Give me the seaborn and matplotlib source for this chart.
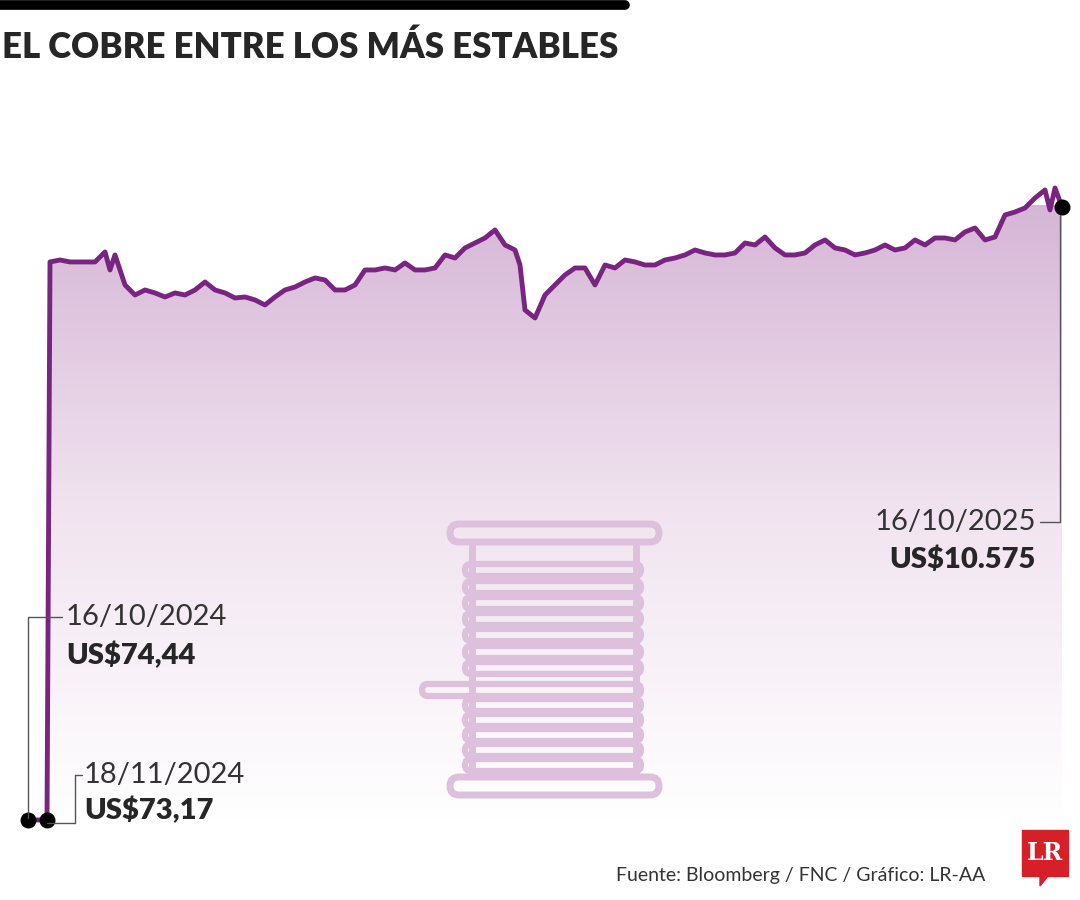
import numpy as np
import matplotlib
matplotlib.use("Agg")
import matplotlib.pyplot as plt
import seaborn as sns
from matplotlib.patches import FancyBboxPatch, Polygon

sns.set_theme(style="white")
plt.rcParams['font.family'] = ['Lato', 'DejaVu Sans']

# time position (days-like index) and copper price values
t = [0, 19, 22, 32, 42, 52, 67, 77, 82, 87, 97, 107, 117, 127, 137, 147, 157, 167, 177, 187,
     197, 207, 217, 227, 237, 247, 257, 267, 277, 287, 297, 307, 317, 327, 337, 347, 357, 367,
     377, 387, 397, 407, 417, 427, 437, 447, 457, 467, 477, 487, 492, 497, 507, 517, 527, 537,
     547, 557, 567, 577, 587, 597, 607, 617, 627, 637, 647, 657, 667, 677, 687, 697, 707, 717,
     727, 737, 747, 757, 767, 777, 787, 797, 807, 817, 827, 837, 847, 857, 867, 877, 887, 897,
     907, 917, 927, 937, 947, 957, 967, 977, 987, 997, 1007, 1017, 1022, 1027, 1034]
price = [74.44, 73.17, 9633, 9667, 9633, 9633, 9633, 9804, 9496, 9753, 9239, 9067, 9153, 9102,
         9033, 9102, 9067, 9153, 9290, 9153, 9102, 9016, 9033, 8982, 8896, 9033, 9153, 9204,
         9290, 9359, 9324, 9153, 9153, 9239, 9496, 9496, 9530, 9496, 9616, 9496, 9496, 9530,
         9753, 9701, 9873, 9958, 10044, 10181, 9924, 9838, 9581, 8810, 8673, 9067, 9239, 9410,
         9530, 9530, 9239, 9581, 9530, 9667, 9633, 9581, 9581, 9667, 9701, 9753, 9838, 9787,
         9753, 9753, 9787, 9958, 9924, 10061, 9873, 9753, 9753, 9787, 9924, 10010, 9873, 9838,
         9753, 9787, 9838, 9924, 9838, 9873, 10010, 9924, 10044, 10044, 10010, 10147, 10215,
         10010, 10061, 10438, 10489, 10558, 10729, 10866, 10524, 10900, 10575]

line_c = "#7a2482"
fig = plt.figure(figsize=(10.8, 9), dpi=100)
ax = fig.add_axes([0, 80/900, 1, 640/900])
ax.set_xlim(-28, 1052)
ax.set_ylim(73, 11037)
ax.axis("off")

# gradient fill under curve
grad = np.linspace(0, 1, 256).reshape(-1, 1)
cmap = matplotlib.colors.LinearSegmentedColormap.from_list("g", ["#ffffff", "#f1e4f0", "#d6b6d6"])
im = ax.imshow(grad, extent=[-28, 1052, 73, 10600], origin="lower", aspect="auto", cmap=cmap, zorder=1)
poly = Polygon(list(zip(t, price)) + [(t[-1], 73), (t[0], 73)], closed=True, transform=ax.transData,
               facecolor="none", edgecolor="none")
ax.add_patch(poly)
im.set_clip_path(poly)
sns.lineplot(x=t, y=price, ax=ax, color=line_c, lw=3.5, zorder=3)
for l in ax.lines:
    l.set_clip_on(False)
ax.scatter([t[0], t[1], t[-1]], [price[0], price[1], price[-1]], color="black", s=110, zorder=5,
           clip_on=False)

# overlay in pixel coordinates
ov = fig.add_axes([0, 0, 1, 1], facecolor="none")
ov.set_xlim(0, 1080); ov.set_ylim(900, 0); ov.axis("off")
ov.plot([0, 625], [5, 5], color="black", lw=7)
ov.text(2, 47, "EL COBRE ENTRE LOS MÁS ESTABLES", fontsize=25, fontweight="heavy", va="center")

sp = "#dcc0dc"
for y0 in (533, 786):
    ov.add_patch(FancyBboxPatch((452, y0 - 7), 205, 14, boxstyle="round,pad=2,rounding_size=9",
                                fc="none", ec=sp, lw=5))
ov.plot([472, 472], [545, 775], color=sp, lw=5)
ov.plot([636, 636], [545, 775], color=sp, lw=5)
coils = [570, 587, 603, 619, 635, 652, 668, 690, 705, 720, 735, 750, 765]
for y in coils:
    x0 = 423 if y == 690 else 466
    ov.add_patch(FancyBboxPatch((x0, y - 5), 640 - x0, 10, boxstyle="round,pad=1,rounding_size=6",
                                fc="none", ec=sp, lw=4.5))

# annotations
ov.plot([28, 28, 62], [818, 617, 617], color="#555555", lw=1)
ov.text(66, 617, "16/10/2024", fontsize=21, color="#333333", va="center")
ov.text(66, 655, "US$74,44", fontsize=21, fontweight="heavy", va="center")
ov.plot([47, 75, 75], [823, 823, 775], color="#555555", lw=1)
ov.plot([75, 82], [775, 775], color="#555555", lw=1)
ov.text(84, 775, "18/11/2024", fontsize=21, color="#333333", va="center")
ov.text(84, 810, "US$73,17", fontsize=21, fontweight="heavy", va="center")
ov.plot([1060, 1060, 1040], [215, 522, 522], color="#555555", lw=1)
ov.text(1036, 522, "16/10/2025", fontsize=21, color="#333333", va="center", ha="right")
ov.text(1036, 560, "US$10.575", fontsize=21, fontweight="heavy", va="center", ha="right")

ov.text(985, 876, "Fuente: Bloomberg / FNC / Gráfico: LR-AA", fontsize=14, color="#333333",
        va="center", ha="right")
ov.add_patch(plt.Rectangle((1022, 830), 46, 46, color="#d62027"))
ov.add_patch(Polygon([(1040, 876), (1048, 876), (1040, 886)], color="#d62027"))
ov.text(1045, 853, "LR", fontsize=17, fontweight="bold", color="white", ha="center", va="center",
        family="DejaVu Serif")

fig.savefig("out.png", dpi=100)
